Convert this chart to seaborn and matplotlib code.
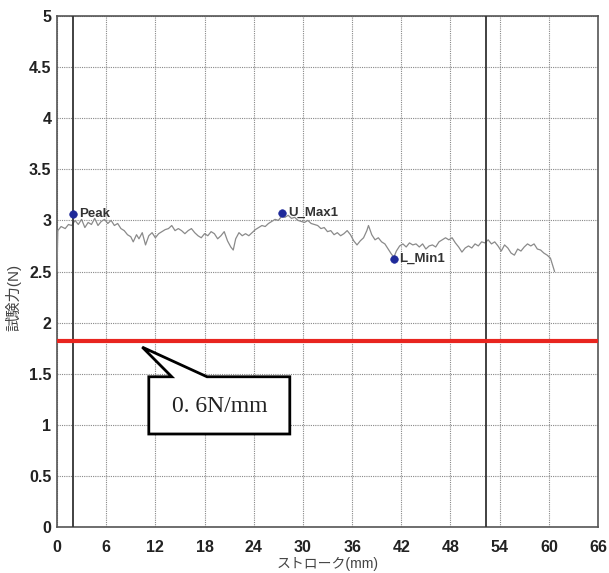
import matplotlib
matplotlib.use("Agg")
import matplotlib.pyplot as plt
from matplotlib.patches import Polygon
from matplotlib.ticker import FuncFormatter
import seaborn as sns
import pandas as pd

# ---- data ----
stroke = [0.0, 0.1, 0.5, 1.0, 1.4, 1.8, 2.2, 2.6, 3.0, 3.4, 3.8, 4.2, 4.6, 5.0, 5.4, 5.8,
          6.2, 6.6, 7.0, 7.4, 7.8, 8.2, 8.6, 9.0, 9.3, 9.7, 10.0, 10.4, 10.8, 11.2, 11.6,
          12.0, 12.4, 12.8, 13.2, 13.6, 14.0, 14.4, 14.8, 15.2, 15.6, 16.0, 16.4, 16.8,
          17.2, 17.6, 18.0, 18.4, 18.8, 19.2, 19.6, 20.0, 20.4, 20.8, 21.2, 21.5, 21.8,
          22.2, 22.6, 23.0, 23.4, 23.8, 24.2, 24.6, 25.0, 25.4, 25.8, 26.2, 26.6, 27.0,
          27.4, 27.8, 28.2, 28.6, 29.0, 29.4, 29.8, 30.2, 30.6, 31.0, 31.4, 31.8, 32.2,
          32.6, 33.0, 33.4, 33.8, 34.2, 34.6, 35.0, 35.4, 35.8, 36.2, 36.6, 37.0, 37.4,
          37.8, 38.0, 38.4, 38.8, 39.2, 39.6, 40.0, 40.4, 40.8, 41.1, 41.4, 41.8, 42.2,
          42.6, 43.0, 43.4, 43.8, 44.2, 44.6, 45.0, 45.4, 45.8, 46.2, 46.6, 47.0, 47.4,
          47.8, 48.2, 48.6, 49.0, 49.4, 49.8, 50.2, 50.6, 51.0, 51.4, 51.8, 52.2, 52.6,
          53.0, 53.4, 53.8, 54.2, 54.6, 55.0, 55.4, 55.8, 56.2, 56.6, 57.0, 57.4, 57.8,
          58.2, 58.6, 59.0, 59.4, 59.8, 60.2, 60.5, 60.7]
force = [2.50, 2.90, 2.94, 2.92, 2.96, 2.95, 3.00, 2.96, 3.01, 2.93, 2.98, 2.96, 3.02, 2.95,
         2.99, 3.01, 2.97, 3.00, 2.95, 2.97, 2.92, 2.90, 2.86, 2.84, 2.79, 2.86, 2.82, 2.88,
         2.76, 2.85, 2.88, 2.83, 2.87, 2.89, 2.91, 2.92, 2.95, 2.90, 2.92, 2.90, 2.87, 2.90,
         2.92, 2.88, 2.85, 2.83, 2.87, 2.85, 2.89, 2.87, 2.82, 2.85, 2.89, 2.80, 2.74, 2.71,
         2.82, 2.88, 2.85, 2.87, 2.85, 2.88, 2.91, 2.93, 2.95, 2.94, 2.97, 2.99, 3.01, 3.00,
         3.04, 3.03, 3.05, 3.02, 3.03, 3.00, 2.99, 2.98, 3.00, 2.97, 2.96, 2.95, 2.92, 2.93,
         2.89, 2.90, 2.86, 2.88, 2.85, 2.87, 2.90, 2.86, 2.80, 2.76, 2.80, 2.83, 2.90, 2.95,
         2.86, 2.81, 2.83, 2.79, 2.77, 2.72, 2.67, 2.64, 2.70, 2.75, 2.77, 2.74, 2.78, 2.76,
         2.77, 2.74, 2.77, 2.72, 2.75, 2.76, 2.74, 2.79, 2.81, 2.83, 2.81, 2.83, 2.78, 2.74,
         2.69, 2.73, 2.75, 2.73, 2.77, 2.75, 2.79, 2.78, 2.81, 2.77, 2.79, 2.75, 2.70, 2.76,
         2.73, 2.68, 2.66, 2.72, 2.70, 2.74, 2.77, 2.75, 2.77, 2.72, 2.71, 2.68, 2.66, 2.63,
         2.55, 2.50]

point_names = ["Peak", "U_Max1", "L_Min1"]
point_x = [2.0, 27.5, 41.1]
point_y = [3.06, 3.07, 2.62]

cursor_x = [2.0, 52.3]
ref_force = 1.82
callout_text = "0. 6N/mm"

x_ticks = [0, 6, 12, 18, 24, 30, 36, 42, 48, 54, 60, 66]
y_ticks = [0, 0.5, 1, 1.5, 2, 2.5, 3, 3.5, 4, 4.5, 5]
x_label = "ストローク(mm)"
y_label = "試験力(N)"

# ---- plotting ----
sns.set_style("white")
plt.rcParams['font.family'] = ['Liberation Sans', 'Noto Sans CJK JP', 'DejaVu Sans']

fig = plt.figure(figsize=(6.09, 5.73), dpi=100)
ax = fig.add_axes([57 / 609, 46 / 573, 541 / 609, 511 / 573])

curve = pd.DataFrame({"stroke": stroke, "force": force})
sns.lineplot(data=curve, x="stroke", y="force", ax=ax, color="#8a8a8a",
             linewidth=0.9, zorder=3)

pts = pd.DataFrame({"x": point_x, "y": point_y, "name": point_names})
sns.scatterplot(data=pts, x="x", y="y", ax=ax, color="#1f2a9a", s=30,
                edgecolor="#1f2a9a", zorder=5)
for n, px, py in zip(point_names, point_x, point_y):
    ax.annotate(n, (px, py), xytext=(4, 0), textcoords="offset points",
                fontsize=9.5, fontweight="bold", color="#333333",
                va="center", ha="left", zorder=6)

for cx in cursor_x:
    ax.axvline(cx, color="#333333", linewidth=1.3, zorder=4)

ax.axhline(ref_force, color="#e8251f", linewidth=3, zorder=4)

# callout box with pointer
bx0, bx1, by0, by1 = 11.2, 28.4, 0.91, 1.47
tip = (10.4, 1.76)
callout = Polygon([(bx0, by0), (bx0, by1), (14.0, by1), tip, (18.3, by1),
                   (bx1, by1), (bx1, by0)], closed=True, facecolor="white",
                  edgecolor="black", linewidth=2, zorder=7)
ax.add_patch(callout)
ax.text((bx0 + bx1) / 2, (by0 + by1) / 2 - 0.01, callout_text, fontsize=17,
        family=['Liberation Serif', 'DejaVu Serif'], color="#222222",
        ha="center", va="center", zorder=8)

ax.set_xlim(0, 66)
ax.set_ylim(0, 5)
ax.set_xticks(x_ticks)
ax.set_yticks(y_ticks)
ax.yaxis.set_major_formatter(FuncFormatter(lambda v, p: f"{v:g}"))
ax.grid(True, color="#888888", linestyle=(0, (1, 1)), linewidth=0.8)
ax.set_axisbelow(True)
ax.tick_params(axis="both", length=0, labelsize=11.5, colors="#222222")
ax.tick_params(axis="y", pad=4)
ax.tick_params(axis="x", pad=9)
for lab in ax.get_xticklabels() + ax.get_yticklabels():
    lab.set_fontweight("bold")
for s in ax.spines.values():
    s.set_color("#555555")
    s.set_linewidth(1.2)

ax.set_xlabel(x_label, fontsize=10, color="#444444", labelpad=2)
ax.set_ylabel(y_label, fontsize=11, color="#444444")
ax.yaxis.set_label_coords(-0.065, 0.45)

fig.savefig("out.png", dpi=100)
